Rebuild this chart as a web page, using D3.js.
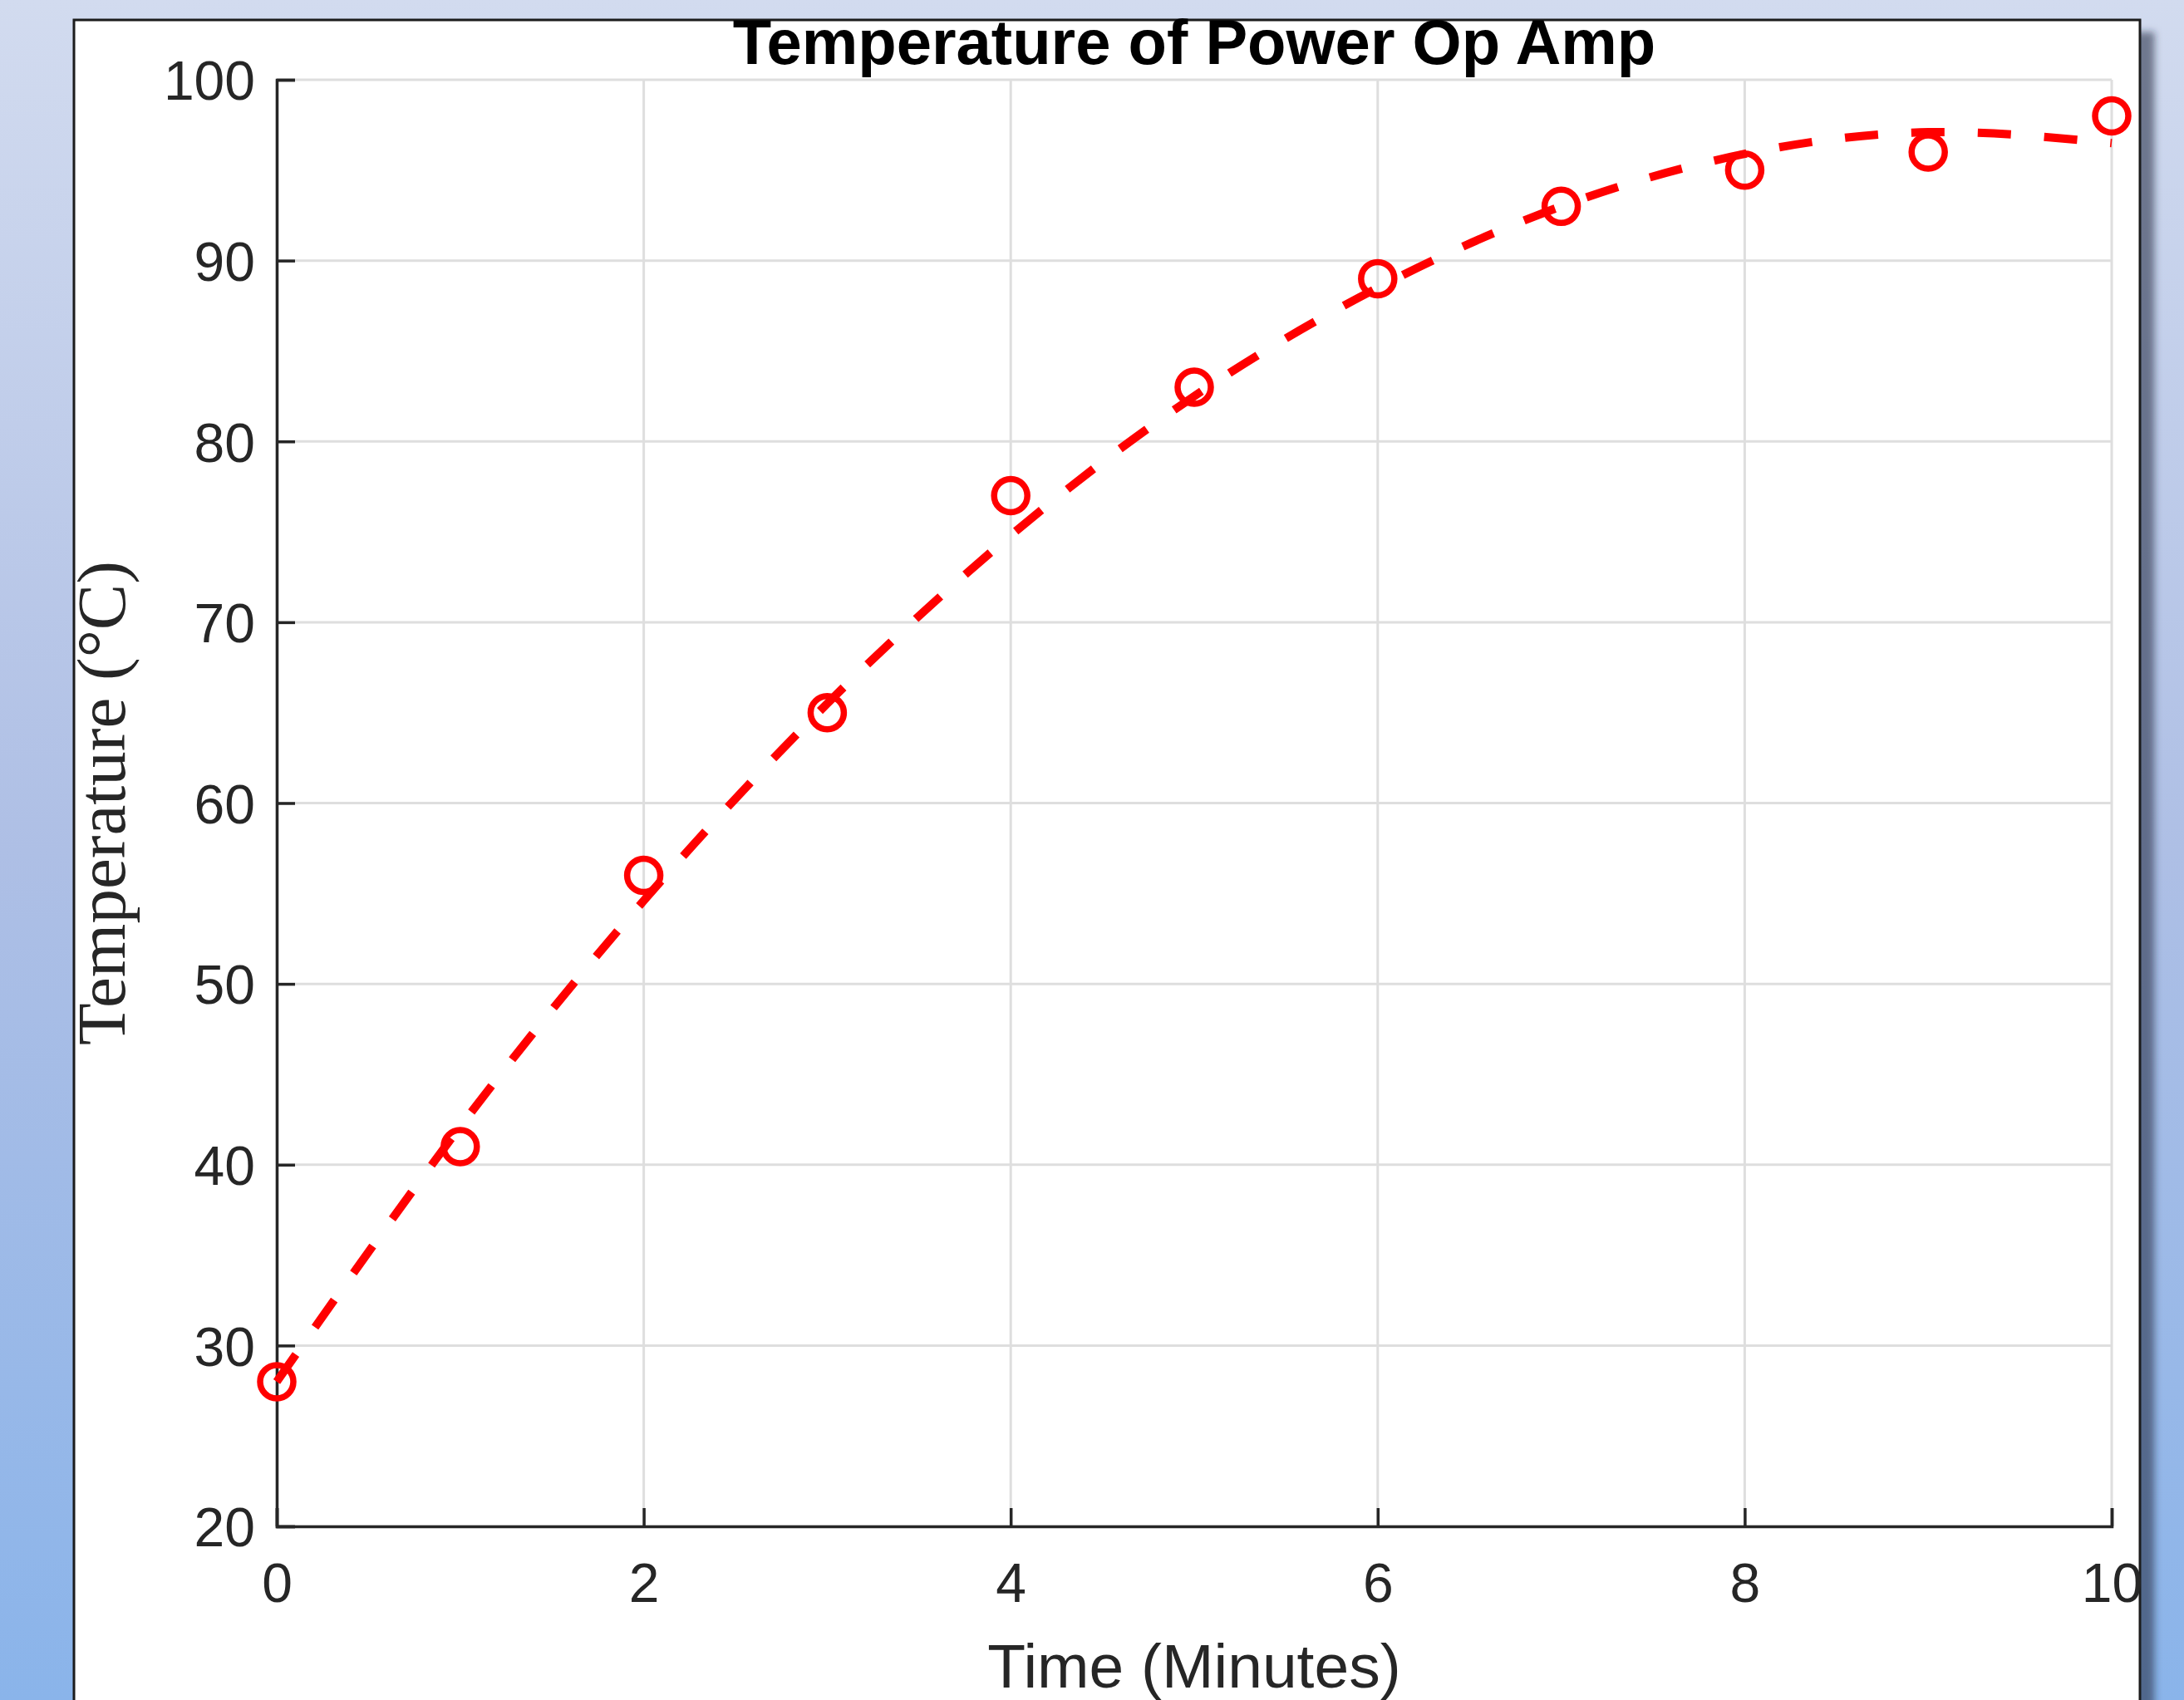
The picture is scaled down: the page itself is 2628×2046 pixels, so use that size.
<!DOCTYPE html>
<html>
<head>
<meta charset="utf-8">
<script src="https://cdn.jsdelivr.net/npm/d3@7"></script>
<style>
html,body{margin:0;padding:0;overflow:hidden;}
svg{display:block;}
</style>
</head>
<body>
<script>
// ---- data ----
const timeMinutes = [0, 1, 2, 3, 4, 5, 6, 7, 8, 9, 10];
const measuredTemp = [28, 41, 56, 65, 77, 83, 89, 93, 95, 96, 98];
const fittedTemp = [28.0, 42.1, 54.6, 65.5, 74.8, 82.5, 88.5, 93.0, 95.9, 97.1, 96.5];
const xTicks = [0, 2, 4, 6, 8, 10];
const yTicks = [20, 30, 40, 50, 60, 70, 80, 90, 100];
const titleText = "Temperature of Power Op Amp";
const xLabelText = "Time (Minutes)";
const yLabelText = "Temperature (°C)";

const W = 2628, H = 2046;
const svg = d3.select("body").append("svg").attr("width", W).attr("height", H);
const defs = svg.append("defs");
const grad = defs.append("linearGradient").attr("id", "bg").attr("x1", 0).attr("y1", 0).attr("x2", 0).attr("y2", 1);
grad.append("stop").attr("offset", "0%").attr("stop-color", "#d2dbef");
grad.append("stop").attr("offset", "50%").attr("stop-color", "#aebfe5");
grad.append("stop").attr("offset", "100%").attr("stop-color", "#8ab4ea");
const flt = defs.append("filter").attr("id", "shadow").attr("x", "-5%").attr("y", "-5%").attr("width", "110%").attr("height", "110%");
flt.append("feDropShadow").attr("dx", 16).attr("dy", 16).attr("stdDeviation", 4)
  .attr("flood-color", "#1e2a40").attr("flood-opacity", 0.55);

svg.append("rect").attr("width", W).attr("height", H).attr("fill", "url(#bg)");
svg.append("rect").attr("x", 89).attr("y", 24).attr("width", 2486).attr("height", 2040)
  .attr("fill", "#ffffff").attr("stroke", "#1a1a1a").attr("stroke-width", 3)
  .attr("filter", "url(#shadow)");

const x = d3.scaleLinear().domain([0, 10]).range([333, 2541]);
const y = d3.scaleLinear().domain([20, 100]).range([1837, 96]);

// grid
const grid = svg.append("g");
grid.selectAll("line.gx").data(xTicks).join("line")
  .attr("x1", d => x(d)).attr("x2", d => x(d)).attr("y1", y(20)).attr("y2", y(100))
  .attr("stroke", "#dedede").attr("stroke-width", 3);
grid.selectAll("line.gy").data(yTicks).join("line")
  .attr("y1", d => y(d)).attr("y2", d => y(d)).attr("x1", x(0)).attr("x2", x(10))
  .attr("stroke", "#dedede").attr("stroke-width", 3);

// axes
const font = "'Liberation Sans', Arial, Helvetica, sans-serif";
const xAxis = d3.axisBottom(x).tickValues(xTicks).tickSize(-22).tickPadding(44).tickFormat(d3.format("d"));
const yAxis = d3.axisLeft(y).tickValues(yTicks).tickSize(-22).tickPadding(26).tickFormat(d3.format("d"));
const gx = svg.append("g").attr("transform", `translate(0,${y(20)})`).call(xAxis);
const gy = svg.append("g").attr("transform", `translate(${x(0)},0)`).call(yAxis);
[gx, gy].forEach(g => {
  g.select(".domain").attr("stroke", "#262626").attr("stroke-width", 3.5);
  g.selectAll(".tick line").attr("stroke", "#262626").attr("stroke-width", 3.5);
  g.selectAll(".tick text").attr("fill", "#262626").attr("font-family", font).attr("font-size", 66);
});
gy.selectAll(".tick text").attr("dy", "0.36em");
gx.selectAll(".tick text").attr("dy", "0.71em");

// fitted dashed curve
const line = d3.line().x((d, i) => x(timeMinutes[i])).y(d => y(d)).curve(d3.curveNatural);
svg.append("path").datum(fittedTemp).attr("d", line)
  .attr("fill", "none").attr("stroke", "#ff0000").attr("stroke-width", 10)
  .attr("stroke-dasharray", "40,40");

// measured points
svg.append("g").selectAll("circle").data(measuredTemp).join("circle")
  .attr("cx", (d, i) => x(timeMinutes[i])).attr("cy", d => y(d)).attr("r", 20)
  .attr("fill", "none").attr("stroke", "#ff0000").attr("stroke-width", 7.5);

// title and labels
svg.append("text").attr("x", (x(0) + x(10)) / 2).attr("y", 77).attr("text-anchor", "middle")
  .attr("font-family", font).attr("font-weight", "bold").attr("font-size", 76).attr("fill", "#000")
  .text(titleText);
svg.append("text").attr("x", (x(0) + x(10)) / 2).attr("y", 2031).attr("text-anchor", "middle")
  .attr("font-family", font).attr("font-size", 75).attr("fill", "#262626")
  .text(xLabelText);
svg.append("text").attr("transform", `translate(150,${(y(20) + y(100)) / 2}) rotate(-90)`)
  .attr("text-anchor", "middle")
  .attr("font-family", "'Liberation Serif', 'Times New Roman', serif").attr("font-size", 83).attr("fill", "#262626")
  .text(yLabelText);
</script>
</body>
</html>
